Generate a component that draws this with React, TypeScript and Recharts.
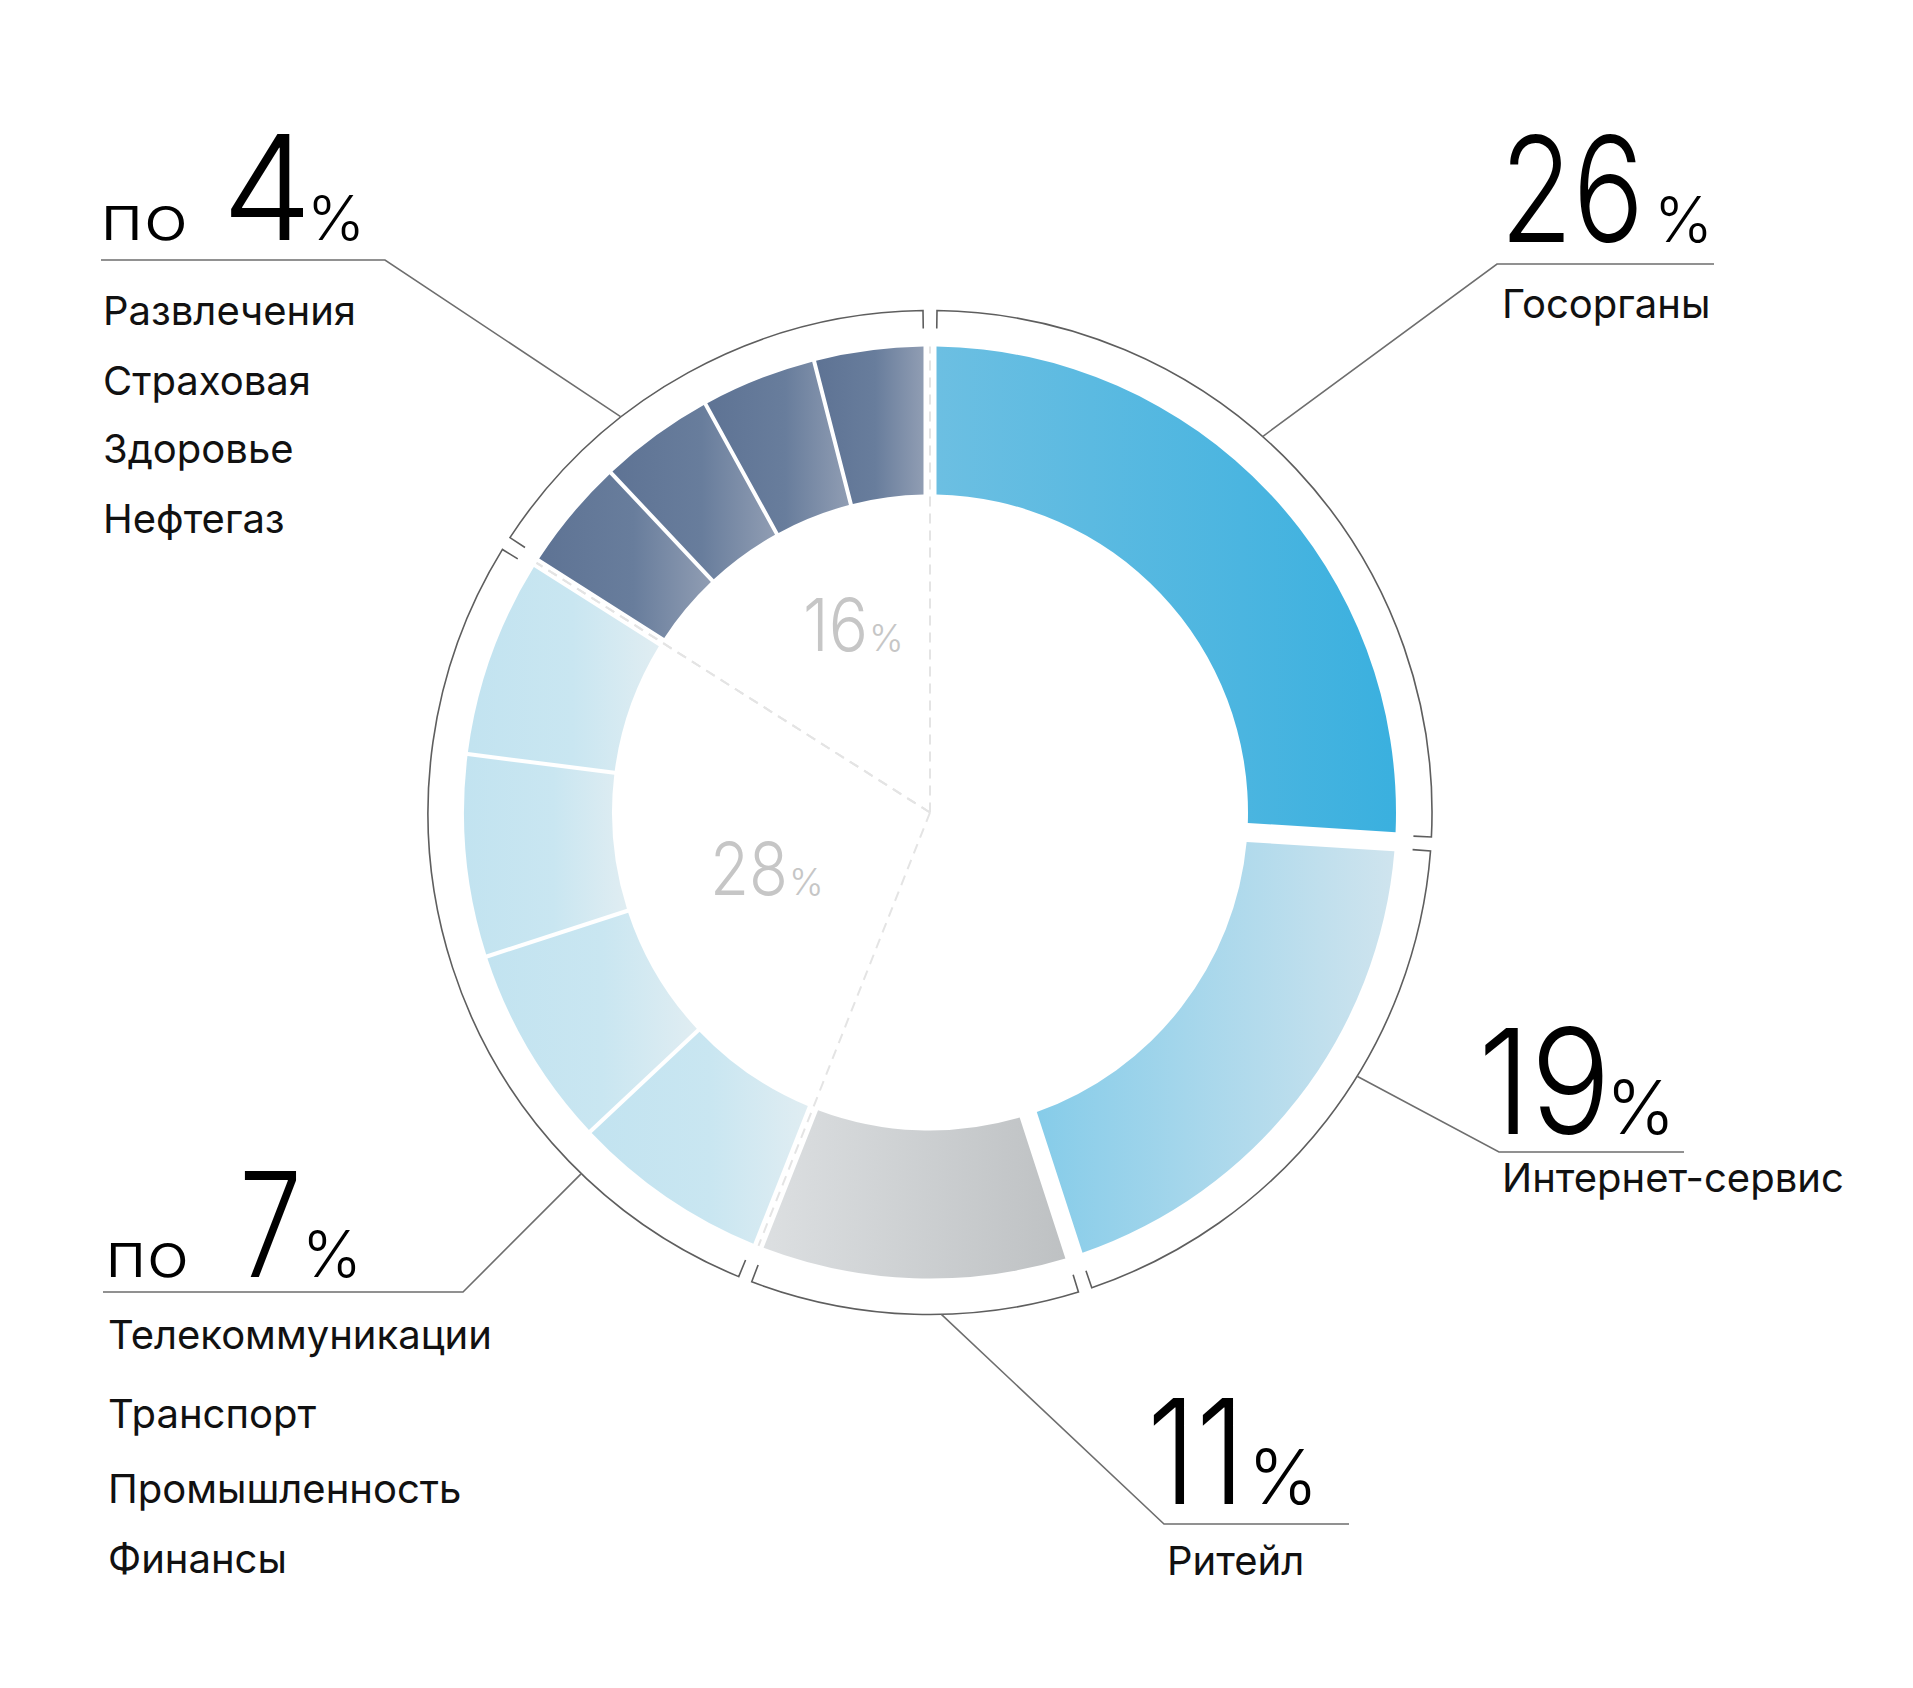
import React, { useLayoutEffect, useRef, useState } from 'react';
import { PieChart, Pie } from 'recharts';

// sectors, clockwise from 12 o'clock
const SECTORS = ['Госорганы', 'Интернет-сервис', 'Ритейл', 'Телекоммуникации', 'Транспорт', 'Промышленность', 'Финансы', 'Развлечения', 'Страховая', 'Здоровье', 'Нефтегаз'];
const SHARES = [26, 19, 11, 7, 7, 7, 7, 4, 4, 4, 4];
const SECTOR_GROUP = [0, 1, 2, 3, 3, 3, 3, 4, 4, 4, 4];
const GROUP_IDS = ['gov', 'web', 'retail', 'mid', 'small'];
const DASHED_GROUPS = [3, 4];

const W = 1913;
const H = 1688;
const CX = 930;
const CY = 812.5;
const R_IN = 318;
const R_OUT = 466;
const RING_R = 502;
const TICK = 18;
const GAP_AFTER = [19, 18, 11, 10, 13];
const THIN_GAP = 4;
const BRACKET_GAP = 7;
const FONT = 'Inter, "Noto Sans", sans-serif';
const LINE = '#6e6e6e';

const GRADIENTS: Record<string, [number, string][]> = {
    gov: [[0, '#6cbfe2'], [1, '#3ab0df']],
    web: [[0, '#86cce9'], [1, '#cfe4ee']],
    retail: [[0, '#dcdfe1'], [1, '#bec1c3']],
    mid: [[0, '#c2e3f0'], [0.55, '#c9e6f1'], [1, '#e0edf2']],
    small: [[0, '#5e7394'], [0.55, '#687d9c'], [1, '#909db3']],
};

const NOTES = [
    {
        leader: 48.5, elbow: [1497, 264], end: 1714,
        num: { x: 1500, y: 242, w: 144 }, pct: { x: 1654, size: 63 },
        list: { x: 1502, ys: [318] },
    },
    {
        leader: -31.7, elbow: [1499, 1152], end: 1684,
        num: { x: 1478, y: 1134, w: 133 }, pct: { x: 1606, size: 74 },
        list: { x: 1502, ys: [1192] },
    },
    {
        leader: -88.7, elbow: [1164, 1524], end: 1349,
        num: { x: 1147, y: 1504, w: 98 }, pct: { x: 1248, size: 75 },
        list: { x: 1167, ys: [1575] },
    },
    {
        leader: -134, elbow: [463, 1292], end: 103,
        prefix: { x: 105, w: 84, size: 62 },
        num: { x: 239, y: 1277, w: 63 }, pct: { x: 302, size: 64 },
        list: { x: 108, ys: [1349, 1428, 1503, 1573] },
        center: { x: 710, y: 895, w: 78, pctX: 789 },
    },
    {
        leader: 128, elbow: [385, 260], end: 101,
        prefix: { x: 100, w: 88, size: 62 },
        num: { x: 222, y: 240, w: 90 }, pct: { x: 307, size: 62 },
        list: { x: 103, ys: [325, 395, 463, 533] },
        center: { x: 803, y: 651, w: 65, pctX: 869 },
    },
];

const sliceData = SECTORS.map((name, i) => ({ name, value: SHARES[i], group: SECTOR_GROUP[i] }));
const groupData = GROUP_IDS.map((id, g) => ({
    name: id,
    value: SHARES.reduce((s, v, i) => (SECTOR_GROUP[i] === g ? s + v : s), 0),
    members: SECTORS.filter((_, i) => SECTOR_GROUP[i] === g),
    each: SHARES[SECTOR_GROUP.indexOf(g)],
}));

const RAD = Math.PI / 180;
const polar = (cx: number, cy: number, r: number, deg: number) => [cx + r * Math.cos(deg * RAD), cy - r * Math.sin(deg * RAD)];
const offsetAngle = (r: number, d: number) => Math.asin(Math.min(1, d / r)) / RAD;

// sector with straight, parallel gaps on both edges (angles run clockwise: start > end)
function sectorPath(cx: number, cy: number, r0: number, r1: number, start: number, end: number, gs: number, ge: number) {
    const s1 = start - offsetAngle(r1, gs);
    const e1 = end + offsetAngle(r1, ge);
    const s0 = start - offsetAngle(r0, gs);
    const e0 = end + offsetAngle(r0, ge);
    const [x1, y1] = polar(cx, cy, r1, s1);
    const [x2, y2] = polar(cx, cy, r1, e1);
    const [x3, y3] = polar(cx, cy, r0, e0);
    const [x4, y4] = polar(cx, cy, r0, s0);
    const big1 = s1 - e1 > 180 ? 1 : 0;
    const big0 = s0 - e0 > 180 ? 1 : 0;
    return `M${x1},${y1} A${r1},${r1} 0 ${big1} 1 ${x2},${y2} L${x3},${y3} A${r0},${r0} 0 ${big0} 0 ${x4},${y4} Z`;
}

// text squeezed horizontally to a given width (the original face has narrow figures)
function FitText({ x, y, w, size, weight = 300, fill = '#000', children }: any) {
    const ref = useRef<SVGTextElement>(null);
    const [sx, setSx] = useState(1);
    useLayoutEffect(() => {
        const measure = () => {
            const n = ref.current ? ref.current.getComputedTextLength() : 0;
            if (n > 0) setSx(w / n);
        };
        measure();
        if ((document as any).fonts) (document as any).fonts.ready.then(measure);
    }, [w]);
    return (
        <text ref={ref} transform={`translate(${x},${y}) scale(${sx},1)`} fontFamily={FONT} fontSize={size} fontWeight={weight} fill={fill}>
            {children}
        </text>
    );
}

const renderSlice = (p: any) => {
    const i = p.index;
    const n = SHARES.length;
    const g = SECTOR_GROUP[i];
    const prevG = SECTOR_GROUP[(i - 1 + n) % n];
    const nextG = SECTOR_GROUP[(i + 1) % n];
    const gs = prevG === g ? THIN_GAP / 2 : GAP_AFTER[prevG] / 2;
    const ge = nextG === g ? THIN_GAP / 2 : GAP_AFTER[g] / 2;
    return (
        <path
            d={sectorPath(p.cx, p.cy, p.innerRadius, p.outerRadius, p.startAngle, p.endAngle, gs, ge)}
            fill={`url(#grad-${GROUP_IDS[g]})`}
        />
    );
};

const renderGroup = (p: any) => {
    const g = p.index;
    const { cx, cy, startAngle, endAngle } = p;
    const note: any = NOTES[g];
    const entry = groupData[g];

    const a0 = startAngle - offsetAngle(RING_R, BRACKET_GAP);
    const a1 = endAngle + offsetAngle(RING_R, BRACKET_GAP);
    const [ix0, iy0] = polar(cx, cy, RING_R - TICK, a0);
    const [ox0, oy0] = polar(cx, cy, RING_R, a0);
    const [ox1, oy1] = polar(cx, cy, RING_R, a1);
    const [ix1, iy1] = polar(cx, cy, RING_R - TICK, a1);
    const big = a0 - a1 > 180 ? 1 : 0;
    const bracket = `M${ix0},${iy0} L${ox0},${oy0} A${RING_R},${RING_R} 0 ${big} 1 ${ox1},${oy1} L${ix1},${iy1}`;

    const [lx, ly] = polar(cx, cy, RING_R, note.leader);
    const leader = `M${lx},${ly} L${note.elbow[0]},${note.elbow[1]} L${note.end},${note.elbow[1]}`;

    const dashed = DASHED_GROUPS.includes(g)
        ? [startAngle, endAngle].map((a, k) => {
            const [dx, dy] = polar(cx, cy, R_OUT, a);
            return <line key={k} x1={cx} y1={cy} x2={dx} y2={dy} stroke="#e4e4e4" strokeWidth={2} strokeDasharray="10 7" />;
        })
        : null;

    return (
        <g>
            {dashed}
            <path d={bracket} fill="none" stroke="#5e5e5e" strokeWidth={1.6} />
            <path d={leader} fill="none" stroke={LINE} strokeWidth={1.6} />
            {note.prefix && (
                <FitText x={note.prefix.x} y={note.num.y} w={note.prefix.w} size={note.prefix.size}>по</FitText>
            )}
            <FitText x={note.num.x} y={note.num.y} w={note.num.w} size={146}>{entry.each}</FitText>
            <text x={note.pct.x} y={note.num.y} fontFamily={FONT} fontSize={note.pct.size} fontWeight={300} fill="#000">%</text>
            {entry.members.map((m, k) => (
                <text key={m} x={note.list.x} y={note.list.ys[k]} fontFamily={FONT} fontSize={40} fill="#111">{m}</text>
            ))}
            {note.center && (
                <>
                    <FitText x={note.center.x} y={note.center.y} w={note.center.w} size={73} fill="#c6c6c6">{entry.value}</FitText>
                    <text x={note.center.pctX} y={note.center.y} fontFamily={FONT} fontSize={37} fontWeight={300} fill="#c6c6c6">%</text>
                </>
            )}
        </g>
    );
};

export default function App() {
    return (
        <div style={{ position: 'absolute', left: 0, top: 0, width: W, height: H, background: '#fff' }}>
            <svg width={0} height={0} style={{ position: 'absolute' }}>
                <defs>
                    {GROUP_IDS.map(id => (
                        <linearGradient key={id} id={`grad-${id}`} x1="0" y1="0" x2="1" y2="0">
                            {GRADIENTS[id].map(([o, c]) => <stop key={o} offset={o} stopColor={c} />)}
                        </linearGradient>
                    ))}
                </defs>
            </svg>
            <PieChart width={W} height={H} margin={{ top: 0, right: 0, bottom: 0, left: 0 }}>
                <Pie
                    data={groupData}
                    dataKey="value"
                    nameKey="name"
                    cx={CX}
                    cy={CY}
                    innerRadius={RING_R - TICK}
                    outerRadius={RING_R}
                    startAngle={90}
                    endAngle={-270}
                    fill="none"
                    stroke="none"
                    labelLine={false}
                    label={renderGroup}
                    isAnimationActive={false}
                />
                <Pie
                    data={sliceData}
                    dataKey="value"
                    nameKey="name"
                    cx={CX}
                    cy={CY}
                    innerRadius={R_IN}
                    outerRadius={R_OUT}
                    startAngle={90}
                    endAngle={-270}
                    fill="none"
                    stroke="none"
                    labelLine={false}
                    label={renderSlice}
                    isAnimationActive={false}
                />
            </PieChart>
        </div>
    );
}
